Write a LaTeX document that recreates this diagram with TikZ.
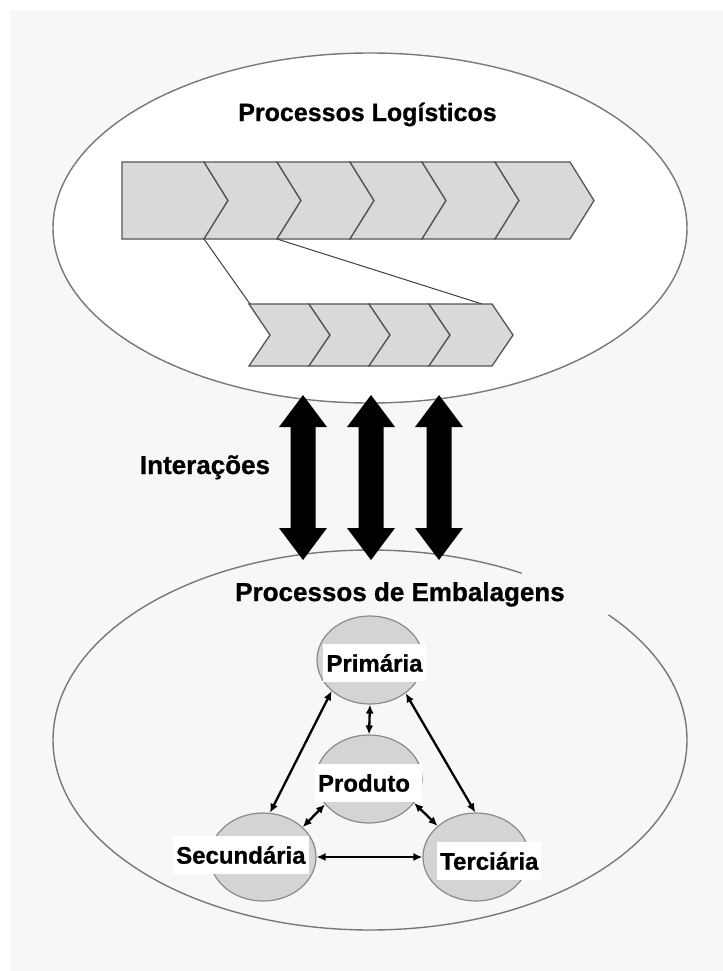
\documentclass[tikz,border=0pt]{standalone}
\usepackage{fontspec}
\setmainfont{Liberation Sans}[BoldFeatures={FakeBold=0.8}]
\usetikzlibrary{arrows.meta,shapes.geometric}

\definecolor{paper}{HTML}{F7F7F7}
\definecolor{rimgray}{HTML}{787878}
\definecolor{chevfill}{HTML}{D9D9D9}
\definecolor{chevline}{HTML}{555555}
\definecolor{ballfill}{HTML}{D4D4D4}
\definecolor{ballline}{HTML}{8A8A8A}

\tikzset{
  rim/.style={draw=rimgray, line width=1.4bp},
  chev/.style={fill=chevfill, draw=chevline, line width=1.3bp, line join=miter},
  ball/.style={ellipse, fill=ballfill, draw=ballline, line width=1.2bp,
    minimum width=106bp, minimum height=88bp, inner sep=0pt},
  tag/.style={fill=white, inner xsep=3bp, inner ysep=0pt, minimum height=38bp,
    font=\bfseries\fontsize{24bp}{28bp}\selectfont},
  head/.style={font=\bfseries\fontsize{26bp}{30bp}\selectfont, inner sep=0pt, anchor=base},
  link/.style={line width=2.3bp, {Latex[length=9bp,width=8bp]}-{Latex[length=9bp,width=8bp]}},
  bigarrow/.style={fill=black},
  zoomline/.style={draw=black!75, line width=1bp},
}

\begin{document}
\begin{tikzpicture}[x=1bp,y=-1bp]
  \useasboundingbox (0,0) rectangle (723,971);
  \fill[white] (0,0) rectangle (723,971);
  \fill[paper] (10,10) rectangle (723,971);

  % logistics ellipse
  \draw[rim, fill=white] (370,228) ellipse [x radius=317, y radius=175];
  \node[head, font=\bfseries\fontsize{25bp}{29bp}\selectfont] (logi) at (367.5,121) {Processos Logísticos};

  % upper chevron chain
  \draw[chev] (122,162) -- (204,162) -- (228,200.5) -- (204,239) -- (122,239) -- cycle;
  \foreach \a/\b in {204/277, 277/350, 350/422, 422/495, 495/570}
    \draw[chev] (\a,162) -- (\b,162) -- (\b+24,200.5) -- (\b,239) -- (\a,239) -- (\a+24,200.5) -- cycle;

  % lower chevron chain (detail of one step)
  \foreach \a/\b in {249/309, 309/369, 369/429, 429/492}
    \draw[chev] (\a,304) -- (\b,304) -- (\b+21,335) -- (\b,366) -- (\a,366) -- (\a+21,335) -- cycle;

  \coordinate (upL) at (204,239);
  \coordinate (upR) at (277,239);
  \coordinate (lowL) at (250,304);
  \coordinate (lowR) at (482,304);
  \draw[zoomline] (upL) -- (lowL);
  \draw[zoomline] (upR) -- (lowR);

  % packaging ellipse, open at the upper right
  \draw[rim] (370,740) ++(-41.2:317 and 190)
    arc[start angle=-41.2, end angle=298.6, x radius=317, y radius=190];
  \node[head] (emb) at (400,601) {Processos de Embalagens};

  % packaging levels
  \node[ball] (prim) at (370,660) {};
  \node[ball] (prod) at (369,779) {};
  \node[ball] (sec) at (263,857) {};
  \node[ball] (ter) at (476,857) {};

  \node[tag] (primtxt) at (374.5,663) {Primária};
  \node[tag, text width=101bp, align=left] (prodtxt) at (368.5,783) {Produto};
  \node[tag, anchor=west] (sectxt) at (173,855) {Secundária};
  \node[tag, anchor=west] (tertxt) at (437,861) {Terciária};

  \draw[link] (prim.219) -- (sec.81);
  \draw[link] (prim.317) -- (ter.91);
  \draw[link] (prim.270) -- (prod.90);
  \draw[link] (prod.210) -- (sec.37);
  \draw[link] (prod.332) -- (ter.141);
  \draw[link] (sec.east) -- (ter.west);

  % interaction arrows
  \foreach \c in {303,371,439}
    \fill[bigarrow] (\c,395) -- (\c+24,427) -- (\c+12.5,427) -- (\c+12.5,528) -- (\c+24,528)
      -- (\c,560) -- (\c-24,528) -- (\c-12.5,528) -- (\c-12.5,427) -- (\c-24,427) -- cycle;
  \node[head] (inter) at (205,474) {Interações};
\end{tikzpicture}
\end{document}
